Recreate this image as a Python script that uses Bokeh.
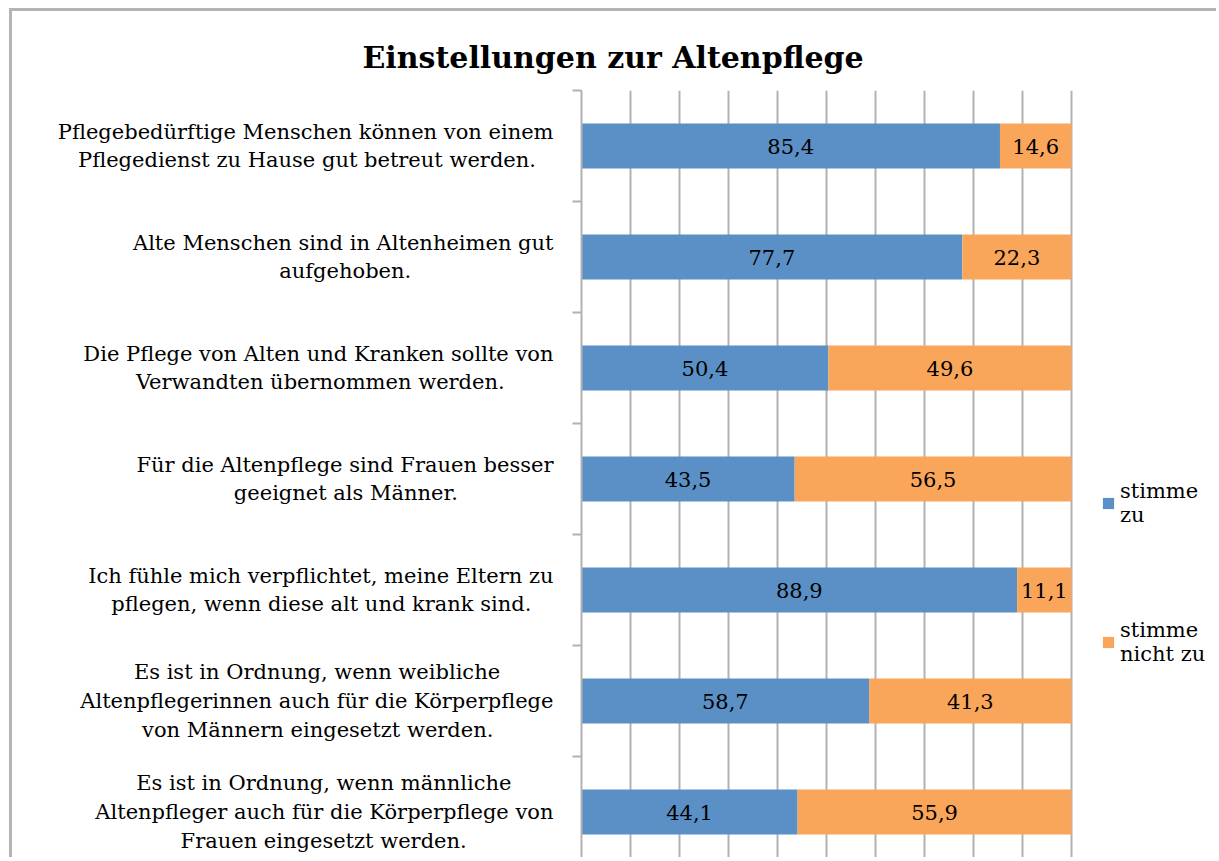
import glob
import struct
from bokeh.plotting import figure
from bokeh.models import (ColumnDataSource, FixedTicker, Range1d, Legend, LegendItem)
from bokeh.core.properties import value
from bokeh.embed import file_html
from bokeh.resources import INLINE

title_text = "Einstellungen zur Altenpflege"
categories = [
    "Pflegebedürftige Menschen können von einem\nPflegedienst zu Hause gut betreut werden.",
    "Alte Menschen sind in Altenheimen gut\naufgehoben.",
    "Die Pflege von Alten und Kranken sollte von\nVerwandten übernommen werden.",
    "Für die Altenpflege sind Frauen besser\ngeeignet als Männer.",
    "Ich fühle mich verpflichtet, meine Eltern zu\npflegen, wenn diese alt und krank sind.",
    "Es ist in Ordnung, wenn weibliche\nAltenpflegerinnen auch für die Körperpflege\nvon Männern eingesetzt werden.",
    "Es ist in Ordnung, wenn männliche\nAltenpfleger auch für die Körperpflege von\nFrauen eingesetzt werden.",
]
stimme_zu = [85.4, 77.7, 50.4, 43.5, 88.9, 58.7, 44.1]
stimme_nicht_zu = [14.6, 22.3, 49.6, 56.5, 11.1, 41.3, 55.9]
series_names = ["stimme\nzu", "stimme\nnicht zu"]
x_ticks = [0, 10, 20, 30, 40, 50, 60, 70, 80, 90, 100]

BLUE = "#5b90c6"
ORANGE = "#f9a55a"
GRID = "#b2b2b2"
FONT = "DejaVu Serif"
LABEL_PX = 21


# ---- font metrics (to centre the lines of each multi-line tick label) ----
def load_width_fn():
    paths = (glob.glob("/usr/share/fonts/**/DejaVuSerif.ttf", recursive=True)
             + glob.glob("/usr/local/share/fonts/**/DejaVuSerif.ttf", recursive=True))
    if not paths:
        return None, set()
    data = open(paths[0], "rb").read()
    num = struct.unpack(">H", data[4:6])[0]
    tabs = {}
    for i in range(num):
        tag, _, off, ln = struct.unpack(">4sIII", data[12 + 16 * i:28 + 16 * i])
        tabs[tag.decode("latin1")] = off
    upem = struct.unpack(">H", data[tabs["head"] + 18:tabs["head"] + 20])[0]
    nhm = struct.unpack(">H", data[tabs["hhea"] + 34:tabs["hhea"] + 36])[0]
    hm = tabs["hmtx"]
    adv = [struct.unpack(">H", data[hm + 4 * i:hm + 4 * i + 2])[0] for i in range(nhm)]
    cm = tabs["cmap"]
    nsub = struct.unpack(">H", data[cm + 2:cm + 4])[0]
    st = None
    for i in range(nsub):
        pid, eid, off = struct.unpack(">HHI", data[cm + 4 + 8 * i:cm + 12 + 8 * i])
        fmt = struct.unpack(">H", data[cm + off:cm + off + 2])[0]
        if fmt == 4 and pid in (0, 3):
            st = cm + off
            break
    if st is None:
        return None, set()
    segx2 = struct.unpack(">H", data[st + 6:st + 8])[0]
    seg = segx2 // 2
    ends = struct.unpack(">%dH" % seg, data[st + 14:st + 14 + segx2])
    starts = struct.unpack(">%dH" % seg, data[st + 16 + segx2:st + 16 + 2 * segx2])
    deltas = struct.unpack(">%dh" % seg, data[st + 16 + 2 * segx2:st + 16 + 3 * segx2])
    rpos = st + 16 + 3 * segx2
    roffs = struct.unpack(">%dH" % seg, data[rpos:rpos + segx2])

    def gid(c):
        for k in range(seg):
            if ends[k] >= c:
                if starts[k] > c:
                    return 0
                if roffs[k] == 0:
                    return (c + deltas[k]) & 0xFFFF
                addr = rpos + 2 * k + roffs[k] + 2 * (c - starts[k])
                g = struct.unpack(">H", data[addr:addr + 2])[0]
                return (g + deltas[k]) & 0xFFFF if g else 0
        return 0

    def width(s):
        return sum(adv[min(gid(ord(ch)), nhm - 1)] for ch in s) / upem

    have = {ch for ch in "\u00a0\u2009\u200a" if gid(ord(ch))}
    return width, have


width_fn, have_sp = load_width_fn()


def centre_lines(label):
    lines = label.split("\n")
    if width_fn is None or len(lines) < 2:
        return label
    ws = [width_fn(l) * LABEL_PX for l in lines]
    mx = max(ws)
    spaces = [(ch, width_fn(ch) * LABEL_PX) for ch in ("\u00a0", "\u2009", "\u200a") if ch in have_sp]
    out = []
    for l, w in zip(lines, ws):
        pad = (mx - w) / 2
        s = ""
        for ch, cw in spaces:
            if cw <= 0:
                continue
            k = int(pad // cw)
            s += ch * k
            pad -= k * cw
        out.append(l + s)
    return "\n".join(out)


n = len(categories)
ys = [n - i - 0.5 for i in range(n)]

src = ColumnDataSource(dict(
    y=ys,
    a_left=[0] * n,
    a_right=stimme_zu,
    b_left=stimme_zu,
    b_right=[a + b for a, b in zip(stimme_zu, stimme_nicht_zu)],
    a_mid=[a / 2 for a in stimme_zu],
    b_mid=[a + b / 2 for a, b in zip(stimme_zu, stimme_nicht_zu)],
    a_lab=[f"{v:.1f}".replace(".", ",") for v in stimme_zu],
    b_lab=[f"{v:.1f}".replace(".", ",") for v in stimme_nicht_zu],
))

W, H = 1207, 849
p = figure(width=W, height=H, output_backend="svg", toolbar_location=None,
           x_range=Range1d(0, 130.2), y_range=Range1d(7 - 770 / 111, 7),
           min_border_left=569, min_border_right=0, min_border_bottom=0,
           min_border_top=79, title=title_text)
p.styles = {"border-top": "3px solid #b4b4b4", "border-left": "3px solid #b4b4b4",
            "margin-left": "9px", "margin-top": "8px"}
p.outline_line_color = None
p.background_fill_color = "white"
p.border_fill_color = "white"

p.title.align = "left"
p.title.text_font = FONT
p.title.text_font_style = "bold"
p.title.text_font_size = "30px"
p.title.text_color = "black"
p.title.offset = -219
p.title.standoff = 32

p.xaxis.visible = False
p.xgrid.ticker = FixedTicker(ticks=x_ticks)
p.xgrid.grid_line_color = GRID
p.xgrid.grid_line_width = 2
p.ygrid.visible = False

yax = p.yaxis[0]
yax.ticker = FixedTicker(ticks=ys, minor_ticks=list(range(n + 1)))
yax.major_label_overrides = {y: centre_lines(c) for y, c in zip(ys, categories)}
yax.major_tick_line_color = None
yax.minor_tick_line_color = GRID
yax.minor_tick_line_width = 2
yax.minor_tick_out = 9
yax.minor_tick_in = 0
yax.axis_line_color = GRID
yax.axis_line_width = 2
yax.major_label_text_font = FONT
yax.major_label_text_font_size = f"{LABEL_PX}px"
yax.major_label_text_color = "black"
yax.major_label_standoff = 19

h = 0.405
ra = p.hbar(y="y", left="a_left", right="a_right", height=h, source=src,
            fill_color=BLUE, line_color=None)
rb = p.hbar(y="y", left="b_left", right="b_right", height=h, source=src,
            fill_color=ORANGE, line_color=None)
p.text(x="a_mid", y="y", text="a_lab", source=src, text_align="center",
       text_baseline="middle", text_font=value(FONT), text_font_size="21px",
       text_color="black")
p.text(x="b_mid", y="y", text="b_lab", source=src, text_align="center",
       text_baseline="middle", text_font=value(FONT), text_font_size="21px",
       text_color="black")

legend = Legend(items=[LegendItem(label=series_names[0], renderers=[ra]),
                       LegendItem(label=series_names[1], renderers=[rb])],
                location=(520, 194), orientation="vertical",
                border_line_color=None, background_fill_alpha=0,
                glyph_width=14, glyph_height=14, spacing=91,
                label_text_font=FONT, label_text_font_size="21px",
                label_text_color="black", label_standoff=5)
p.add_layout(legend)

open("out.html", "w").write(file_html(p, INLINE))
